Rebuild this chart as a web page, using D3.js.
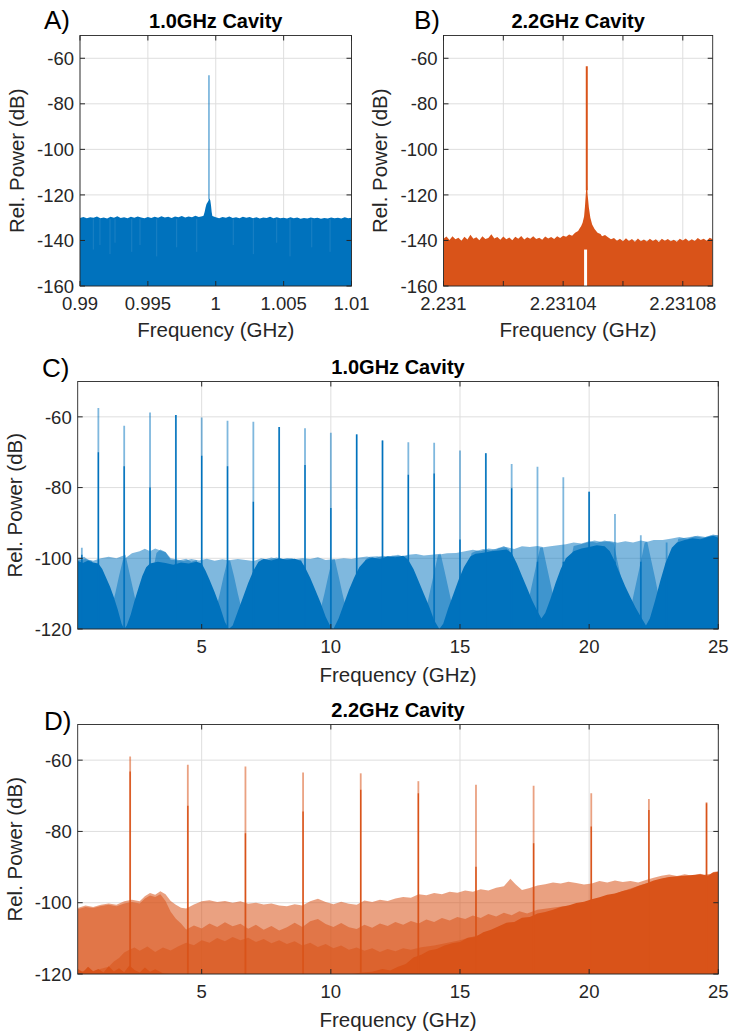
<!DOCTYPE html>
<html><head><meta charset="utf-8">
<script src="https://cdn.jsdelivr.net/npm/d3@7"></script>
<style>
body{margin:0;background:#fff}
svg{display:block;font-family:"Liberation Sans",Arial,Helvetica,sans-serif}
</style></head><body>
<svg id="fig" width="731" height="1034"></svg>
<script>
// ---------- colours ----------
const BLUE = "#0072BD", ORANGE = "#D95319";

// ---------- A) 1.0 GHz cavity, narrow span ----------
const floorA = [[0.99,-130.1],[0.99025,-129.7],[0.9905,-130.3],[0.99075,-129.8],[0.991,-130],[0.99125,-129.5],[0.9915,-130.2],[0.99175,-129.9],[0.992,-130.4],[0.99225,-129.6],[0.9925,-130],[0.99275,-129.4],[0.993,-130.1],[0.99325,-129.8],[0.9935,-130.3],[0.99375,-129.6],[0.994,-130],[0.99425,-129.5],[0.9945,-129.9],[0.99475,-130.2],[0.995,-129.7],[0.99525,-130.1],[0.9955,-129.6],[0.99575,-130],[0.996,-129.4],[0.99625,-129.9],[0.9965,-129.6],[0.99675,-130.1],[0.997,-129.5],[0.99725,-129.8],[0.9975,-129.3],[0.99775,-129.9],[0.998,-129.5],[0.99825,-129.8],[0.9985,-129.2],[0.99875,-129.7],[0.999,-129.4],[0.9991,-129.2],[0.99918,-127.5],[0.99925,-125.5],[0.99932,-124],[0.9994,-123.2],[0.99947,-122.5],[0.9995,-122],[0.99955,-121.6],[0.9996,-122.4],[0.99965,-124.5],[0.9997,-127.5],[0.99975,-129.3],[1.0,-129.8],[1.00025,-130.2],[1.0005,-129.7],[1.00075,-130],[1.001,-129.5],[1.00125,-130.1],[1.0015,-129.8],[1.00175,-130.3],[1.002,-129.6],[1.00225,-130],[1.0025,-129.7],[1.00275,-130.2],[1.003,-129.8],[1.00325,-130.4],[1.0035,-129.9],[1.00375,-130.1],[1.004,-129.6],[1.00425,-130.2],[1.0045,-129.8],[1.00475,-130.3],[1.005,-130],[1.00525,-130.4],[1.0055,-129.8],[1.00575,-130.2],[1.006,-129.9],[1.00625,-130.5],[1.0065,-130.1],[1.00675,-130.4],[1.007,-129.9],[1.00725,-130.3],[1.0075,-130],[1.00775,-130.5],[1.008,-130.1],[1.00825,-130.4],[1.0085,-129.9],[1.00875,-130.3],[1.009,-130],[1.00925,-130.4],[1.0095,-129.8],[1.00975,-130.2],[1.01,-130]];
const dipsA = [[0.99098,-144],[0.99147,-142],[0.99221,-146],[0.99258,-141],[0.99381,-145],[0.99442,-142],[0.99565,-147],[0.99712,-143],[0.9986,-145],[1.00129,-142],[1.00277,-146],[1.00449,-141],[1.00547,-147],[1.00707,-143],[1.00842,-145]];
const peakA = [[0.9995,-67.5]];
const xTicksA = [0.99,0.995,1,1.005,1.01];
const xLabelsA = ["0.99","0.995","1","1.005","1.01"];
const yTicksAB = [-160,-140,-120,-100,-80,-60];

// ---------- B) 2.2 GHz cavity, narrow span ----------
const floorB = [[2.231,-139.2],[2.231001,-138.3],[2.231002,-139.8],[2.231003,-138.1],[2.231004,-139.5],[2.231005,-138.8],[2.231006,-140.1],[2.231007,-138.4],[2.231008,-139.6],[2.231009,-137.5],[2.23101,-139.3],[2.231011,-138.6],[2.231012,-139.9],[2.231013,-138.2],[2.231014,-139.4],[2.231015,-138.9],[2.231016,-137.3],[2.231017,-139.1],[2.231018,-138.5],[2.231019,-139.7],[2.23102,-138.3],[2.231021,-139.5],[2.231022,-138.7],[2.231023,-139.9],[2.231024,-138.4],[2.231025,-139.2],[2.231026,-138],[2.231027,-139.6],[2.231028,-138.6],[2.231029,-139.3],[2.23103,-138.1],[2.231031,-139.4],[2.231032,-138.8],[2.231033,-139.7],[2.231034,-138.3],[2.231035,-139.1],[2.231036,-138.5],[2.231037,-139.4],[2.231038,-138.2],[2.231039,-138.9],[2.23104,-137.9],[2.231041,-138.4],[2.231042,-137.4],[2.231043,-137.9],[2.231044,-136.6],[2.231045,-135.8],[2.2310455,-134.8],[2.231046,-133.8],[2.2310465,-132.2],[2.231047,-129.5],[2.2310473,-125],[2.2310476,-119],[2.2310479,-114],[2.2310482,-120],[2.2310486,-125.5],[2.2310491,-130],[2.2310497,-133],[2.2310505,-135],[2.2310515,-136.6],[2.2310525,-137.2],[2.231053,-138.1],[2.231054,-137.6],[2.231055,-138.6],[2.231056,-139.5],[2.231057,-138.9],[2.231058,-140.1],[2.231059,-139.2],[2.23106,-140.4],[2.231061,-139],[2.231062,-140.2],[2.231063,-139.4],[2.231064,-140.6],[2.231065,-139.1],[2.231066,-140.3],[2.231067,-139.6],[2.231068,-140.5],[2.231069,-139.3],[2.23107,-140.2],[2.231071,-139.5],[2.231072,-140.7],[2.231073,-139.2],[2.231074,-140.1],[2.231075,-139.4],[2.231076,-140.4],[2.231077,-139.7],[2.231078,-140.6],[2.231079,-139.3],[2.23108,-140],[2.231081,-139.1],[2.231082,-140.3],[2.231083,-139.5],[2.231084,-140.2],[2.231085,-138.9],[2.231086,-139.8],[2.231087,-139.2],[2.231088,-140.1],[2.231089,-138.8],[2.23109,-139.5]];
const peakB = [[2.2310479,-63.5]];
const gapB = [[2.231047,2.231048,-160,-144]];
const xTicksB = [2.231,2.23102,2.23104,2.23106,2.23108];
const xLabelsB = ["2.231","","2.23104","","2.23108"];

// ---------- C) 1.0 GHz cavity, wide span (three captures) ----------
const cTraceDark = [[0.2,-100.8],[0.4,-101.3],[0.6,-100.6],[0.8,-101.2],[1.0,-101.5],[1.15,-103],[1.3,-105.5],[1.45,-108],[1.6,-111],[1.75,-114.5],[1.9,-118.5],[2.0,-120],[2.1,-119],[2.25,-116],[2.4,-112],[2.55,-108.5],[2.7,-105],[2.85,-102.5],[3.0,-101.5],[3.3,-101],[3.6,-101.3],[3.9,-101.8],[4.2,-101.2],[4.5,-101.5],[4.8,-101],[5.0,-101.5],[5.15,-103.5],[5.3,-106],[5.5,-109.5],[5.7,-113.5],[5.9,-118],[6.05,-120],[6.2,-119],[6.4,-115],[6.6,-111],[6.8,-107],[7.0,-103.5],[7.2,-101],[7.4,-100.2],[7.7,-100.6],[8.0,-100],[8.3,-100.4],[8.6,-100.1],[8.85,-100.8],[9.0,-102.5],[9.2,-105.5],[9.4,-109],[9.6,-112.5],[9.8,-116.5],[10.0,-119.5],[10.1,-120],[10.3,-117],[10.5,-113],[10.7,-109],[10.9,-105.5],[11.1,-102.5],[11.35,-100.5],[11.6,-99.8],[11.9,-100.2],[12.2,-99.4],[12.5,-99.7],[12.8,-99.3],[13.0,-100.5],[13.2,-103],[13.4,-106.5],[13.6,-110],[13.8,-113.5],[14.0,-117.5],[14.2,-120],[14.35,-118.5],[14.55,-114],[14.75,-110],[14.95,-106],[15.15,-102.5],[15.4,-99.5],[15.6,-98.7],[15.9,-98.4],[16.2,-98],[16.5,-97.8],[16.8,-97.5],[17.0,-98.5],[17.2,-101.5],[17.4,-105],[17.6,-108.5],[17.8,-112],[18.0,-115],[18.15,-117],[18.3,-115.5],[18.5,-111.5],[18.7,-107],[18.9,-103],[19.1,-100],[19.4,-98],[19.7,-97.2],[20.0,-96.8],[20.3,-96.3],[20.6,-96.6],[20.8,-98],[21.0,-101],[21.2,-104.5],[21.4,-108],[21.6,-111],[21.8,-114],[22.0,-116.5],[22.2,-119],[22.35,-117],[22.55,-112],[22.75,-106.5],[22.95,-101.5],[23.2,-97],[23.4,-95.5],[23.7,-94.8],[24.0,-94.3],[24.3,-94.6],[24.6,-94],[24.8,-93.6],[25,-94.2]];
const cTraceLight1 = [[0.2,-100.2],[0.45,-99.6],[0.6,-100.4],[0.75,-100.8],[0.9,-105],[1.05,-110],[1.2,-114.5],[1.35,-119.5],[1.5,-114.5],[1.65,-110],[1.8,-105],[1.95,-100.5],[2.3,-98.6],[2.6,-98],[2.8,-97.3],[3.0,-98],[3.2,-97.2],[3.4,-97.8],[3.6,-98.3],[3.8,-100.4],[4.1,-100.6],[4.4,-100.1],[4.6,-101],[4.8,-100.5],[4.95,-105],[5.1,-110],[5.25,-114.5],[5.4,-119.5],[5.55,-114.5],[5.7,-110],[5.85,-105],[6.0,-100.6],[6.4,-100.2],[6.7,-100.5],[7.0,-100.8],[7.3,-100],[7.6,-100.4],[7.9,-99.8],[8.2,-100.3],[8.5,-100],[8.7,-100.6],[8.85,-100.4],[9.0,-105],[9.15,-110],[9.3,-114.5],[9.45,-119.5],[9.6,-114.5],[9.75,-110],[9.9,-105],[10.05,-100.4],[10.5,-100],[10.8,-100.2],[11.1,-99.8],[11.4,-99.5],[11.7,-100],[12.0,-99.3],[12.3,-99.6],[12.6,-99],[12.8,-99.5],[12.95,-99.3],[13.1,-104],[13.25,-109],[13.4,-114],[13.55,-119.5],[13.7,-114],[13.85,-109],[14.0,-104],[14.15,-99],[14.5,-98.6],[14.85,-98.5],[15.2,-98],[15.5,-97.6],[15.8,-98],[16.1,-97.2],[16.4,-97.5],[16.7,-96.5],[16.9,-97.5],[17.05,-102],[17.2,-107],[17.35,-112],[17.5,-117],[17.65,-112],[17.8,-107],[17.95,-102],[18.1,-97],[18.5,-96.6],[18.8,-96.3],[19.1,-96],[19.4,-95.5],[19.7,-95.8],[20.0,-95.2],[20.3,-95.6],[20.6,-95],[20.8,-95.4],[20.95,-95.6],[21.1,-101],[21.25,-106],[21.4,-111],[21.55,-117],[21.7,-111],[21.85,-106],[22.0,-101],[22.15,-95.5],[22.5,-94.8],[22.85,-94.8],[23.2,-94.4],[23.5,-94],[23.8,-94.5],[24.1,-93.8],[24.4,-94.2],[24.7,-93.6],[25,-93.4]];
const cTraceLight2 = [[0.2,-100.6],[0.5,-100.2],[0.8,-100.7],[1.1,-100],[1.4,-99.6],[1.7,-100],[2.05,-99],[2.2,-104],[2.35,-109],[2.5,-114],[2.65,-119.5],[2.8,-114],[2.95,-109],[3.1,-104],[3.25,-98.5],[3.4,-97.5],[3.6,-98.2],[3.8,-100],[4.0,-100.3],[4.3,-100.8],[4.6,-100.2],[4.9,-100.6],[5.2,-100.1],[5.5,-100.7],[5.8,-100.3],[6.1,-100.6],[6.25,-105],[6.4,-110],[6.55,-114.5],[6.7,-119.5],[6.85,-114.5],[7.0,-110],[7.15,-105],[7.3,-100.5],[7.5,-100.2],[7.7,-99.8],[8.0,-100.4],[8.3,-99.9],[8.6,-100.3],[8.9,-100],[9.2,-100.2],[9.5,-99.7],[9.8,-100.5],[10.15,-100.2],[10.3,-105],[10.45,-110],[10.6,-114.5],[10.75,-119.5],[10.9,-114.5],[11.05,-110],[11.2,-105],[11.35,-100.3],[11.5,-99.6],[11.8,-99.4],[12.1,-99.8],[12.4,-99.2],[12.7,-99.5],[13.0,-99],[13.3,-98.8],[13.6,-99.2],[13.9,-99],[14.25,-98.7],[14.4,-103.5],[14.55,-108.5],[14.7,-113.5],[14.85,-119],[15.0,-113.5],[15.15,-108.5],[15.3,-103.5],[15.45,-98.5],[15.6,-98],[15.9,-97.4],[16.2,-97.8],[16.5,-97],[16.8,-96.8],[17.1,-97.4],[17.4,-96.6],[17.7,-96.8],[18.0,-96.5],[18.2,-96.8],[18.35,-102],[18.5,-107],[18.65,-112],[18.8,-117],[18.95,-112],[19.1,-107],[19.25,-102],[19.4,-96.5],[19.6,-96.2],[19.9,-95.6],[20.2,-95],[20.5,-95.4],[20.8,-95.1],[21.1,-95.6],[21.4,-95.2],[21.7,-95.5],[22.0,-95],[22.25,-95.3],[22.4,-100.5],[22.55,-105.5],[22.7,-111],[22.85,-116.5],[23.0,-111],[23.15,-105.5],[23.3,-100],[23.45,-94.5],[23.6,-94.3],[23.9,-94],[24.2,-93.6],[24.5,-94],[24.8,-93.3],[25,-93.6]];
const harmC     = [0.36, 1, 2, 3, 4, 5, 6, 7, 8, 9, 10, 11, 12, 13, 14, 15, 16, 17, 18, 19, 20, 21, 22, 23];
const peakTopC  = [-97, -57.5, -62.5, -58.8, -59.5, -60.2, -61.1, -61.4, -62.9, -63.2, -64.5, -64.9, -66.7, -67.2, -67.3, -69.5, -70.3, -73.3, -74.1, -77.1, -81.2, -87.5, -93.5, -95.5];
const peakDarkC = [-99, -70, -74, -80, -59.5, -71, -74, -84, -62.9, -73.6, -85.8, -65, -66.7, -76.4, -76, -94.7, -70.3, -80.2, -101, -101, -81.2, -101, -101, -101];

// ---------- D) 2.2 GHz cavity, wide span (four captures) ----------
const dTraceLight1 = [[0.2,-101.5],[0.5,-100.8],[0.8,-101.2],[1.1,-100.6],[1.4,-100.2],[1.7,-100.6],[2.0,-99.6],[2.3,-99.2],[2.6,-99.6],[2.8,-98.2],[3.0,-97.3],[3.2,-97.8],[3.4,-96.8],[3.6,-97.6],[3.8,-99.5],[4.0,-100.6],[4.2,-101.4],[4.4,-101.6],[4.7,-100.5],[5.0,-99.6],[5.3,-99.3],[5.6,-99.8],[5.9,-99.5],[6.2,-100],[6.5,-99.6],[6.8,-100.3],[7.1,-100],[7.4,-100.5],[7.7,-100.2],[8.0,-100.8],[8.3,-101],[8.6,-100.4],[8.9,-100.8],[9.2,-99.6],[9.5,-98.9],[9.8,-99.8],[10.1,-100.4],[10.4,-99.7],[10.7,-100.3],[11.0,-100.6],[11.3,-99.4],[11.6,-99.8],[11.9,-99.2],[12.2,-99.5],[12.5,-98.8],[12.8,-98.4],[13.1,-98.6],[13.4,-97.6],[13.7,-97.9],[14.0,-97.3],[14.3,-97.6],[14.6,-96.9],[14.9,-97.2],[15.2,-96.6],[15.5,-96.9],[15.8,-96.2],[16.1,-96.6],[16.4,-95.8],[16.7,-95.4],[16.95,-93.3],[17.15,-94.8],[17.4,-96.4],[17.7,-95.9],[18.0,-95.2],[18.3,-94.8],[18.6,-94.3],[18.9,-94.6],[19.2,-94.1],[19.5,-94.5],[19.8,-94.9],[20.1,-94.6],[20.4,-93.9],[20.7,-94.3],[21.0,-93.8],[21.3,-94.2],[21.6,-93.9],[21.9,-94.3],[22.2,-93.6],[22.5,-93],[22.8,-92.4],[23.1,-92.1],[23.4,-92.5],[23.7,-92],[24.0,-92.4],[24.3,-91.9],[24.6,-92.6],[24.8,-91.4],[25,-91.2]];
const dTraceLight2 = [[0.2,-101.8],[0.5,-101.2],[0.8,-101.5],[1.1,-100.9],[1.4,-100.6],[1.7,-101],[2.0,-100.2],[2.3,-99.8],[2.6,-100.2],[2.8,-98.8],[3.0,-98],[3.2,-98.4],[3.4,-97.6],[3.6,-99.5],[3.8,-102.5],[4.0,-104.5],[4.2,-105.8],[4.4,-107.5],[4.7,-106.4],[5.0,-107.2],[5.3,-105.8],[5.6,-106.8],[5.9,-105.5],[6.2,-106.6],[6.5,-105.9],[6.8,-107.3],[7.1,-106.2],[7.4,-107.6],[7.7,-106.5],[8.0,-107.8],[8.3,-106.9],[8.6,-105.6],[8.9,-106.8],[9.2,-105.2],[9.5,-104.6],[9.8,-106],[10.1,-106.8],[10.4,-105.7],[10.7,-106.9],[11.0,-107.4],[11.3,-106.2],[11.6,-107],[11.9,-105.8],[12.2,-106.5],[12.5,-105.4],[12.8,-106.2],[13.1,-105.1],[13.4,-105.8],[13.7,-104.7],[14.0,-105.4],[14.3,-104.3],[14.6,-105],[14.9,-104],[15.2,-104.6],[15.5,-103.6],[15.8,-104.3],[16.1,-103.2],[16.4,-103.9],[16.7,-102.8],[17.0,-103.5],[17.3,-102.4],[17.6,-103],[18.0,-102],[18.5,-101.5],[19.0,-101],[20.0,-100],[21.0,-98.5],[22.0,-96.5],[23.0,-93.5],[24.0,-92.6],[25,-91.6]];
const dTraceLight3 = [[0.2,-119.5],[0.5,-119],[0.8,-119.6],[1.1,-118.5],[1.4,-118],[1.6,-116.5],[1.8,-115.5],[2.0,-114],[2.2,-113.2],[2.4,-112.6],[2.6,-113.5],[2.9,-112.3],[3.2,-113.8],[3.5,-112.6],[3.8,-113.4],[4.1,-112.2],[4.4,-111.2],[4.7,-111.9],[5.0,-110.5],[5.3,-111.2],[5.6,-109.9],[5.9,-110.8],[6.2,-109.6],[6.5,-110.5],[6.8,-109.8],[7.1,-111],[7.4,-110.2],[7.7,-111.4],[8.0,-110.5],[8.3,-111.6],[8.6,-110.8],[8.9,-112],[9.2,-111.2],[9.5,-112.4],[9.8,-111.6],[10.1,-112.8],[10.4,-112],[10.7,-113.2],[11.0,-112.6],[11.3,-113.5],[11.6,-112.8],[11.9,-113.8],[12.2,-113],[12.5,-113.6],[12.8,-112.8],[13.1,-113.2],[13.5,-112.5],[14.0,-112],[15.0,-110.5],[16.0,-108.5],[17.0,-106],[18.0,-104],[19.0,-101.5],[20.0,-99.5],[21.0,-97.5],[22.0,-95],[23.0,-93],[24.0,-92.8],[25,-92]];
const dTraceDark = [[0.2,-118.5],[0.4,-119.5],[0.6,-118],[0.8,-119.2],[1.0,-118.6],[1.2,-119.6],[1.4,-117.8],[1.6,-119.3],[1.8,-118.4],[2.0,-119.5],[2.2,-117.6],[2.4,-118.9],[2.6,-119.6],[2.8,-118.2],[3.0,-119.4],[3.2,-118.7],[3.5,-119.8],[3.8,-120],[10.8,-120],[11.2,-119.6],[11.6,-119.4],[12.0,-118.6],[12.3,-119],[12.6,-118],[12.9,-117.2],[13.2,-115.4],[13.5,-114.6],[13.8,-113.4],[14.1,-113],[14.4,-112],[14.7,-111.4],[15.0,-111],[15.3,-109.8],[15.6,-109.6],[15.9,-108.3],[16.2,-107.6],[16.5,-106.6],[16.8,-105.6],[17.1,-105.4],[17.4,-104.2],[17.7,-104],[18.0,-103],[18.3,-102.6],[18.6,-102],[18.9,-101.2],[19.2,-100.8],[19.5,-100.1],[19.8,-99.7],[20.1,-99],[20.4,-98.5],[20.7,-97.8],[21.0,-97.4],[21.3,-96.7],[21.6,-96.2],[21.9,-95.3],[22.2,-94.6],[22.5,-93.8],[22.8,-93.2],[23.1,-92.8],[23.4,-92.6],[23.7,-92.4],[24.0,-92.2],[24.3,-92],[24.6,-92.4],[24.8,-91.5],[25,-91.3]];
const harmD     = [2.231, 4.463, 6.694, 8.925, 11.157, 13.388, 15.619, 17.85, 20.082, 22.313, 24.544];
const peakTopD  = [-59.0, -61.3, -61.8, -63.5, -63.7, -65.9, -66.9, -67.2, -69.3, -70.9, -71.8];
const peakDarkD = [-63.2, -72.8, -80.5, -74.4, -68.3, -69.3, -89.9, -83.3, -78.6, -74.0, -72.1];

const xTicksCD = [5, 10, 15, 20, 25];
const yTicksCD = [-120, -100, -80, -60];

// ---------- drawing ----------
const svg = d3.select("#fig");
svg.append("rect").attr("width", 731).attr("height", 1034).attr("fill", "#fff");
const defs = svg.append("defs");
const AXIS = "#262626", GRID = "#dedede";
const TICK_FS = 18.5, LABEL_FS = 20.5, TITLE_FS = 20;

function makePanel(o) {
  const x = d3.scaleLinear().domain(o.xDomain).range([o.left, o.right]);
  const y = d3.scaleLinear().domain(o.yDomain).range([o.bottom, o.top]);
  const g = svg.append("g");
  // grid
  g.selectAll(".gx").data(o.xTicks).join("line")
    .attr("x1", d => x(d)).attr("x2", d => x(d)).attr("y1", o.top).attr("y2", o.bottom)
    .attr("stroke", GRID).attr("stroke-width", 1);
  g.selectAll(".gy").data(o.yTicks).join("line")
    .attr("y1", d => y(d)).attr("y2", d => y(d)).attr("x1", o.left).attr("x2", o.right)
    .attr("stroke", GRID).attr("stroke-width", 1);
  // clipped plotting layer
  const id = "clip" + o.name;
  defs.append("clipPath").attr("id", id).append("rect")
    .attr("x", o.left).attr("y", o.top).attr("width", o.right - o.left).attr("height", o.bottom - o.top);
  const plot = g.append("g").attr("clip-path", `url(#${id})`);
  const frame = svg.append("g");
  return { x, y, g, plot, frame, o };
}

function finishPanel(p) {
  const { x, y, frame, o } = p;
  const tl = 5;
  frame.append("rect").attr("x", o.left).attr("y", o.top)
    .attr("width", o.right - o.left).attr("height", o.bottom - o.top)
    .attr("fill", "none").attr("stroke", AXIS).attr("stroke-width", 0.9);
  // inward ticks on all four sides
  o.xTicks.forEach(t => {
    frame.append("line").attr("x1", x(t)).attr("x2", x(t)).attr("y1", o.bottom).attr("y2", o.bottom - tl).attr("stroke", AXIS);
    frame.append("line").attr("x1", x(t)).attr("x2", x(t)).attr("y1", o.top).attr("y2", o.top + tl).attr("stroke", AXIS);
  });
  o.yTicks.forEach(t => {
    frame.append("line").attr("y1", y(t)).attr("y2", y(t)).attr("x1", o.left).attr("x2", o.left + tl).attr("stroke", AXIS);
    frame.append("line").attr("y1", y(t)).attr("y2", y(t)).attr("x1", o.right).attr("x2", o.right - tl).attr("stroke", AXIS);
  });
  // tick labels
  frame.selectAll(".xl").data(o.xTicks).join("text")
    .attr("x", d => x(d)).attr("y", o.bottom + 24).attr("text-anchor", "middle")
    .attr("font-size", TICK_FS).attr("fill", AXIS)
    .text((d, i) => o.xLabels ? o.xLabels[i] : d3.format("~g")(d));
  frame.selectAll(".yl").data(o.yTicks).join("text")
    .attr("x", o.left - 6).attr("y", d => y(d)).attr("dy", "0.36em").attr("text-anchor", "end")
    .attr("font-size", TICK_FS).attr("fill", AXIS)
    .text(d => d3.format("~g")(d).replace("\u2212", "-"));
  // axis labels
  frame.append("text").attr("x", (o.left + o.right) / 2).attr("y", o.bottom + o.xlabOff)
    .attr("text-anchor", "middle").attr("font-size", LABEL_FS).attr("fill", AXIS).text("Frequency (GHz)");
  frame.append("text").attr("transform", `translate(${o.ylabX},${(o.top + o.bottom) / 2}) rotate(-90)`)
    .attr("text-anchor", "middle").attr("font-size", LABEL_FS).attr("fill", AXIS).text("Rel. Power (dB)");
  // title and panel letter
  frame.append("text").attr("x", (o.left + o.right) / 2).attr("y", o.top - 8)
    .attr("text-anchor", "middle").attr("font-size", TITLE_FS).attr("font-weight", "bold").attr("fill", "#000").text(o.title);
  frame.append("text").attr("x", o.letterX).attr("y", o.letterY)
    .attr("font-size", 26).attr("fill", "#000").text(o.letter);
}

function fillTrace(p, data, color, alpha) {
  const area = d3.area().x(d => p.x(d[0])).y0(p.o.bottom).y1(d => p.y(d[1]));
  p.plot.append("path").datum(data).attr("d", area)
    .attr("fill", color).attr("fill-opacity", alpha).attr("stroke", "none");
}

function peakLines(p, freqs, tops, color, alpha, width, base) {
  p.plot.append("g").selectAll("line").data(freqs.map((f, i) => [f, tops[i]])).join("line")
    .attr("x1", d => p.x(d[0])).attr("x2", d => p.x(d[0]))
    .attr("y1", p.y(base)).attr("y2", d => p.y(d[1]))
    .attr("stroke", color).attr("stroke-opacity", alpha).attr("stroke-width", width);
}

// ----- A -----
const pA = makePanel({ name: "A", left: 80, right: 351.5, top: 35.5, bottom: 286,
  xDomain: [0.99, 1.01], yDomain: [-160, -50], xTicks: xTicksA, xLabels: xLabelsA, yTicks: yTicksAB,
  title: "1.0GHz Cavity", letter: "A)", letterX: 44, letterY: 29, ylabX: 24, xlabOff: 51 });
fillTrace(pA, floorA, BLUE, 1);
pA.plot.append("g").selectAll("line").data(dipsA).join("line")
  .attr("x1", d => pA.x(d[0])).attr("x2", d => pA.x(d[0]))
  .attr("y1", d => pA.y(-130.5)).attr("y2", d => pA.y(d[1]))
  .attr("stroke", "#fff").attr("stroke-opacity", 0.14).attr("stroke-width", 0.8);
peakLines(pA, peakA.map(d => d[0]), peakA.map(d => d[1]), BLUE, 0.75, 1.2, -122);
finishPanel(pA);

// ----- B -----
const pB = makePanel({ name: "B", left: 443.5, right: 712.7, top: 35.5, bottom: 286,
  xDomain: [2.231, 2.23109], yDomain: [-160, -50], xTicks: xTicksB, xLabels: xLabelsB, yTicks: yTicksAB,
  title: "2.2GHz Cavity", letter: "B)", letterX: 414, letterY: 29, ylabX: 387, xlabOff: 51 });
fillTrace(pB, floorB, ORANGE, 1);
peakLines(pB, peakB.map(d => d[0]), peakB.map(d => d[1]), ORANGE, 1, 2, -118);
pB.plot.selectAll(".gap").data(gapB).join("rect")
  .attr("x", d => pB.x(d[0])).attr("width", d => pB.x(d[1]) - pB.x(d[0]))
  .attr("y", d => pB.y(d[3])).attr("height", d => pB.y(d[2]) - pB.y(d[3]))
  .attr("fill", "#fff");
finishPanel(pB);

// ----- C -----
const pC = makePanel({ name: "C", left: 77.7, right: 718.3, top: 381.5, bottom: 629,
  xDomain: [0.2, 25], yDomain: [-120, -50], xTicks: xTicksCD, yTicks: yTicksCD,
  title: "1.0GHz Cavity", letter: "C)", letterX: 42, letterY: 377, ylabX: 22, xlabOff: 53 });
fillTrace(pC, cTraceLight1, BLUE, 0.5);
fillTrace(pC, cTraceLight2, BLUE, 0.5);
peakLines(pC, harmC, peakTopC, BLUE, 0.5, 1.8, -120);
fillTrace(pC, cTraceDark, BLUE, 1);
peakLines(pC, harmC, peakDarkC, BLUE, 1, 1.4, -120);
finishPanel(pC);

// ----- D -----
const pD = makePanel({ name: "D", left: 77.7, right: 718.3, top: 724.5, bottom: 974,
  xDomain: [0.2, 25], yDomain: [-120, -50], xTicks: xTicksCD, yTicks: yTicksCD,
  title: "2.2GHz Cavity", letter: "D)", letterX: 44, letterY: 730, ylabX: 22, xlabOff: 53 });
fillTrace(pD, dTraceLight1, ORANGE, 0.55);
fillTrace(pD, dTraceLight2, ORANGE, 0.55);
fillTrace(pD, dTraceLight3, ORANGE, 0.55);
peakLines(pD, harmD, peakTopD, ORANGE, 0.55, 1.8, -120);
fillTrace(pD, dTraceDark, ORANGE, 1);
peakLines(pD, harmD, peakDarkD, ORANGE, 1, 1.4, -120);
finishPanel(pD);
</script>
</body></html>
